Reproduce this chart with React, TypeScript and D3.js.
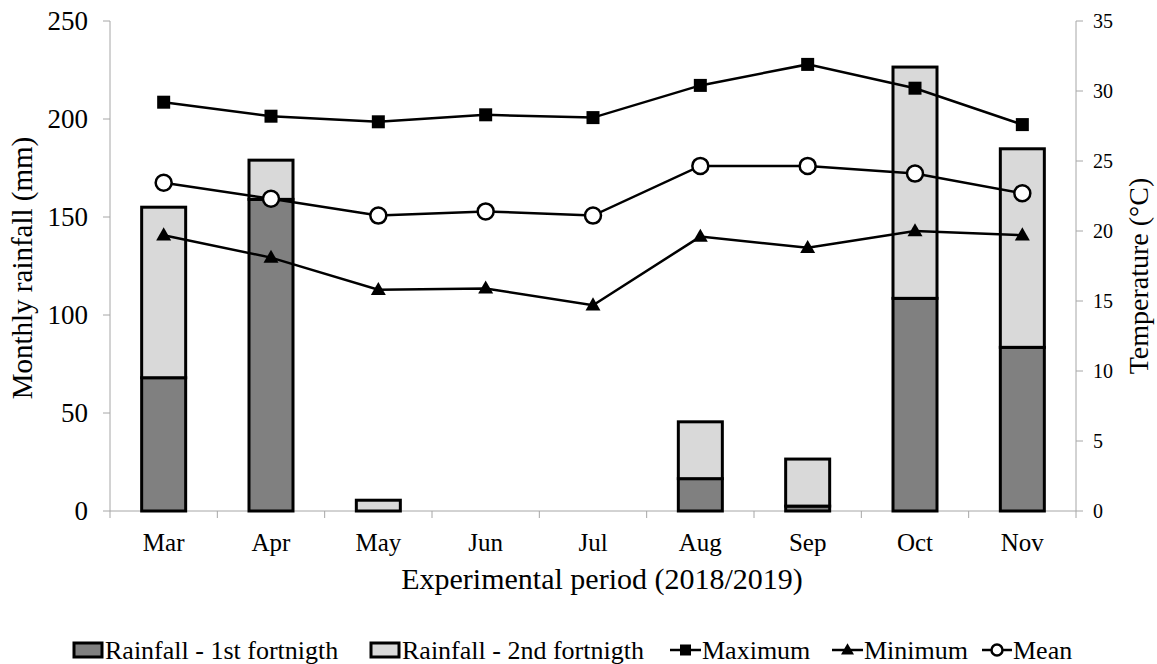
import { scaleBand, scaleLinear, line } from 'd3';

const WIDTH = 1157;
const HEIGHT = 664;
const FONT = '"Liberation Serif", "Times New Roman", serif';
const DARK = '#808080';
const LIGHT = '#d9d9d9';
const AXIS = '#a6a6a6';

const months = ['Mar', 'Apr', 'May', 'Jun', 'Jul', 'Aug', 'Sep', 'Oct', 'Nov'];
// rainfall (mm), per fortnight
const rainFirst = [68, 159, 0, 0, 0, 16.5, 2.5, 108.5, 83.5];
const rainSecond = [87, 20, 5.5, 0, 0, 29, 24, 118, 101.3];
// temperature (°C)
const tempMax = [29.2, 28.2, 27.8, 28.3, 28.1, 30.4, 31.9, 30.2, 27.6];
const tempMean = [23.45, 22.3, 21.1, 21.4, 21.1, 24.65, 24.65, 24.1, 22.7];
const tempMin = [19.7, 18.1, 15.8, 15.9, 14.7, 19.6, 18.8, 20.0, 19.7];

const rainTicks = [0, 50, 100, 150, 200, 250];
const tempTicks = [0, 5, 10, 15, 20, 25, 30, 35];

const M = { left: 110, right: 1076, top: 21, bottom: 511 };

function Square({ x, y, s = 13 }: { x: number; y: number; s?: number }) {
  return <rect x={x - s / 2} y={y - s / 2} width={s} height={s} fill="#000" />;
}

function Triangle({ x, y, s = 15 }: { x: number; y: number; s?: number }) {
  const h = s * 0.87;
  return (
    <path
      d={`M${x},${y - h * 0.6} L${x + s / 2},${y + h * 0.4} L${x - s / 2},${y + h * 0.4} Z`}
      fill="#000"
    />
  );
}

function Circle({ x, y, r = 8 }: { x: number; y: number; r?: number }) {
  return <circle cx={x} cy={y} r={r} fill="#fff" stroke="#000" strokeWidth={2.5} />;
}

export default function App() {
  const x = scaleBand<string>().domain(months).range([M.left, M.right]);
  const yRain = scaleLinear().domain([0, 250]).range([M.bottom, M.top]);
  const yTemp = scaleLinear().domain([0, 35]).range([M.bottom, M.top]);
  const barW = x.bandwidth() * 0.41;
  const cx = (m: string) => (x(m) ?? 0) + x.bandwidth() / 2;

  const tempLine = line<number>()
    .x((_, i) => cx(months[i]))
    .y(d => yTemp(d));

  const series = [
    { name: 'max', values: tempMax, Mark: Square },
    { name: 'mean', values: tempMean, Mark: Circle },
    { name: 'min', values: tempMin, Mark: Triangle },
  ];

  return (
    <svg
      width={WIDTH}
      height={HEIGHT}
      style={{ position: 'absolute', left: 0, top: 0, background: '#fff' }}
      fontFamily={FONT}
    >
      {/* left axis */}
      <line x1={M.left} x2={M.left} y1={M.top} y2={M.bottom} stroke={AXIS} />
      {rainTicks.map(t => (
        <g key={t}>
          <line x1={M.left - 7} x2={M.left} y1={yRain(t)} y2={yRain(t)} stroke={AXIS} />
          <text x={88} y={yRain(t) + 9} textAnchor="end" fontSize={27}>
            {t}
          </text>
        </g>
      ))}
      <text
        transform={`translate(32,${(M.top + M.bottom) / 2 + 2}) rotate(-90)`}
        textAnchor="middle"
        fontSize={29}
      >
        Monthly rainfall (mm)
      </text>

      {/* right axis */}
      <line x1={M.right} x2={M.right} y1={M.top} y2={M.bottom} stroke={AXIS} />
      {tempTicks.map(t => (
        <g key={t}>
          <line x1={M.right} x2={M.right + 7} y1={yTemp(t)} y2={yTemp(t)} stroke={AXIS} />
          <text x={1093} y={yTemp(t) + 7} textAnchor="start" fontSize={20}>
            {t}
          </text>
        </g>
      ))}
      <text
        transform={`translate(1148,${(M.top + M.bottom) / 2 + 10}) rotate(-90)`}
        textAnchor="middle"
        fontSize={28}
      >
        Temperature (°C)
      </text>

      {/* category axis */}
      <line x1={M.left} x2={M.right} y1={M.bottom} y2={M.bottom} stroke={AXIS} />
      {months.map((m, i) => (
        <g key={m}>
          <line
            x1={x(m) ?? 0}
            x2={x(m) ?? 0}
            y1={M.bottom}
            y2={M.bottom + 7}
            stroke={AXIS}
          />
          {i === months.length - 1 && (
            <line
              x1={M.right}
              x2={M.right}
              y1={M.bottom}
              y2={M.bottom + 7}
              stroke={AXIS}
            />
          )}
          <text x={cx(m)} y={551} textAnchor="middle" fontSize={25}>
            {m}
          </text>
        </g>
      ))}
      <text x={(M.left + M.right) / 2 + 9} y={589} textAnchor="middle" fontSize={30}>
        Experimental period (2018/2019)
      </text>

      {/* stacked rainfall bars */}
      {months.map((m, i) => {
        const x0 = cx(m) - barW / 2;
        const a = rainFirst[i];
        const b = rainSecond[i];
        return (
          <g key={m} stroke="#000" strokeWidth={3}>
            {a > 0 && (
              <rect x={x0} y={yRain(a)} width={barW} height={yRain(0) - yRain(a)} fill={DARK} />
            )}
            {b > 0 && (
              <rect
                x={x0}
                y={yRain(a + b)}
                width={barW}
                height={yRain(a) - yRain(a + b)}
                fill={LIGHT}
              />
            )}
          </g>
        );
      })}

      {/* temperature lines */}
      {series.map(({ name, values, Mark }) => (
        <g key={name}>
          <path d={tempLine(values) ?? ''} fill="none" stroke="#000" strokeWidth={2.5} />
          {values.map((v, i) => (
            <Mark key={i} x={cx(months[i])} y={yTemp(v)} />
          ))}
        </g>
      ))}

      {/* legend */}
      <g fontSize={26}>
        <rect x={74} y={643} width={28} height={14} fill={DARK} stroke="#000" strokeWidth={3} />
        <text x={105} y={659}>Rainfall - 1st fortnigth</text>
        <rect x={371} y={643} width={28} height={14} fill={LIGHT} stroke="#000" strokeWidth={3} />
        <text x={402} y={659}>Rainfall - 2nd fortnigth</text>

        <line x1={670} x2={701} y1={650} y2={650} stroke="#000" strokeWidth={2.5} />
        <Square x={685.5} y={650} s={11} />
        <text x={702} y={659}>Maximum</text>

        <line x1={832} x2={863} y1={650} y2={650} stroke="#000" strokeWidth={2.5} />
        <Triangle x={847.5} y={650} s={13} />
        <text x={864} y={659}>Minimum</text>

        <line x1={982} x2={1012} y1={650} y2={650} stroke="#000" strokeWidth={2.5} />
        <Circle x={997} y={650} r={5.5} />
        <text x={1013} y={659}>Mean</text>
      </g>
    </svg>
  );
}
